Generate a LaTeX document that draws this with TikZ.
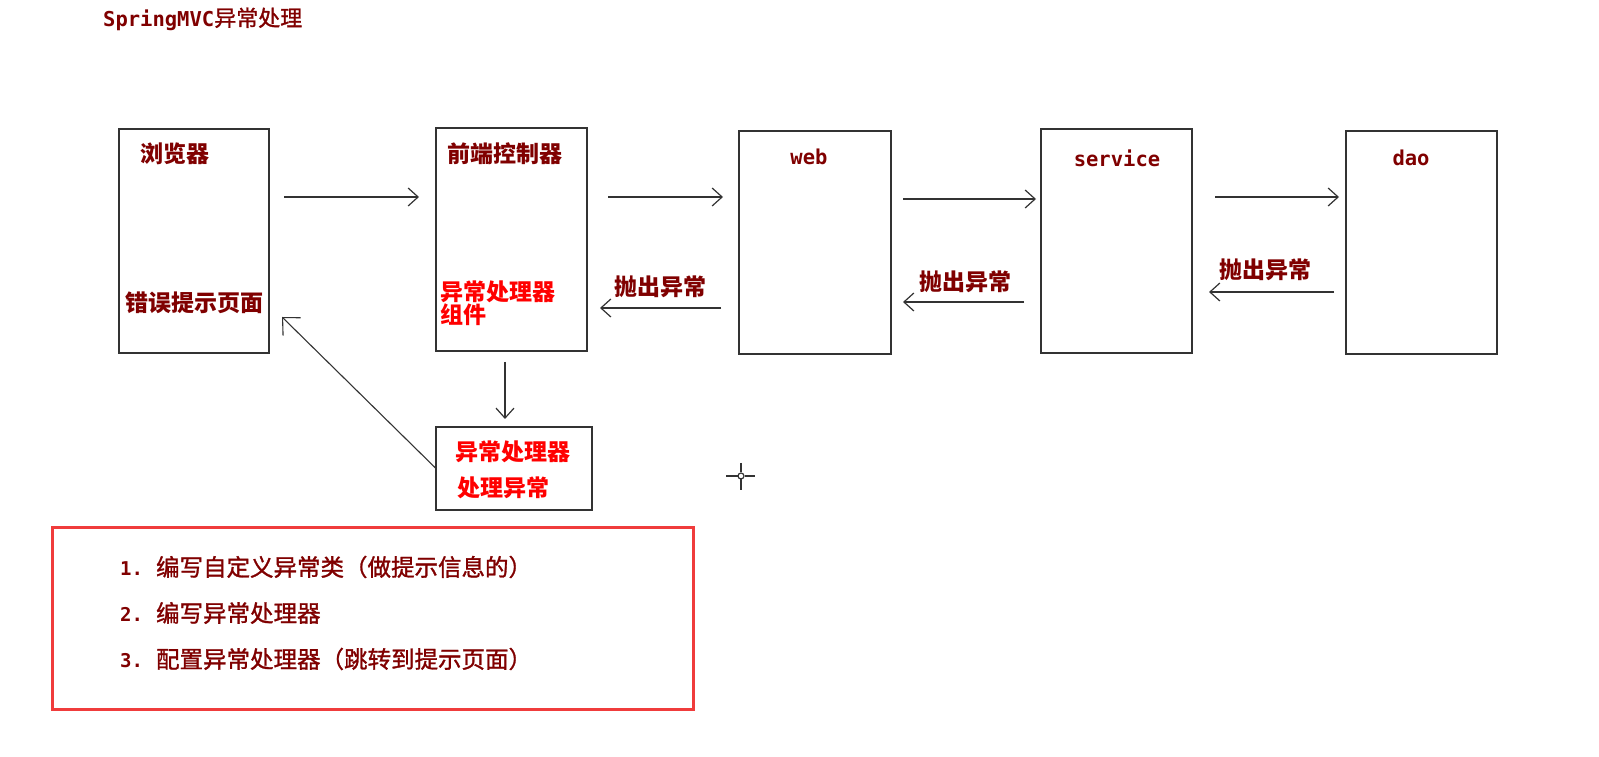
\documentclass[tikz,border=0pt]{standalone}
\usepackage{fontspec}
\newfontfamily\cjk{Noto Sans CJK SC}
\newfontfamily\cjkmid[FakeBold=1.2]{Noto Sans CJK SC}
\newfontfamily\mono{DejaVu Sans Mono}
\usetikzlibrary{arrows.meta}
\definecolor{txtdark}{HTML}{800000}
\definecolor{txtred}{HTML}{FF0000}
\definecolor{noteline}{HTML}{F03C3C}
\definecolor{boxline}{HTML}{333333}
\tikzset{
  blk/.style={draw=boxline,line width=1.3pt,inner sep=0pt,outer sep=0pt,fill=white},
  cn/.style={inner sep=0pt,font=\cjk\bfseries\fontsize{23}{23}\selectfont,text=txtdark},
  cnred/.style={cn,text=txtred},
  mn/.style={inner sep=0pt,font=\mono\bfseries\fontsize{20.5}{21}\selectfont,text=txtdark},
  arr/.style={draw=boxline,line width=1.2pt,-{Straight Barb[length=10pt,width=18pt,line width=1.2pt]}},
  darr/.style={draw=boxline,line width=1.1pt,-{Straight Barb[length=13pt,width=25pt,line width=1.1pt]}}
}
\begin{document}
\begin{tikzpicture}[x=1pt,y=1pt]
\useasboundingbox (0,0) rectangle (1599,757);
\fill[white] (0,0) rectangle (1599,757);
% title
\node[anchor=west,inner sep=0pt,text=txtdark] (title) at (103,738)
  {{\mono\bfseries\fontsize{20.5}{21}\selectfont SpringMVC}{\cjkmid\fontsize{22}{22}\selectfont 异常处理}};
% boxes
\node[blk,minimum width=150,minimum height=224] (browser) at (194,516) {};
\node[blk,minimum width=151,minimum height=223] (fc) at (511.5,517.5) {};
\node[blk,minimum width=152,minimum height=223] (web) at (815,514.5) {};
\node[blk,minimum width=151,minimum height=224] (service) at (1116.5,516) {};
\node[blk,minimum width=151,minimum height=223] (dao) at (1421.5,514.5) {};
\node[blk,minimum width=156,minimum height=83] (handler) at (514,288.5) {};
\node[draw=noteline,line width=3pt,inner sep=0pt,minimum width=641,minimum height=182] (note) at (372.5,138) {};
% box texts
\node[cn] (tbrowser) at (174.5,603) {浏览器};
\node[cn] (terror) at (194,454) {错误提示页面};
\node[cn] (tfc) at (505,603) {前端控制器};
\node[cnred,anchor=west,align=left] (tcomp) at (440,453.5) {异常处理器\\[0pt]组件};
\node[mn] (tweb) at (809,600) {web};
\node[mn] (tservice) at (1117,599) {service};
\node[mn] (tdao) at (1411,599) {dao};
\node[cnred] (th1) at (512.5,305) {异常处理器};
\node[cnred] (th2) at (503,269) {处理异常};
\node[cn] (l1) at (660.5,470) {抛出异常};
\node[cn] (l2) at (965,475) {抛出异常};
\node[cn] (l3) at (1265,487) {抛出异常};
% list
\node[anchor=west,inner sep=0pt,text=txtdark] (n1) at (120,190)
  {{\mono\bfseries\fontsize{19}{20}\selectfont 1.}\hspace{13pt}{\cjkmid\fontsize{23.5}{23.5}\selectfont 编写自定义异常类（做提示信息的）}};
\node[anchor=west,inner sep=0pt,text=txtdark] (n2) at (120,144)
  {{\mono\bfseries\fontsize{19}{20}\selectfont 2.}\hspace{13pt}{\cjkmid\fontsize{23.5}{23.5}\selectfont 编写异常处理器}};
\node[anchor=west,inner sep=0pt,text=txtdark] (n3) at (120,98)
  {{\mono\bfseries\fontsize{19}{20}\selectfont 3.}\hspace{13pt}{\cjkmid\fontsize{23.5}{23.5}\selectfont 配置异常处理器（跳转到提示页面）}};
% arrow end points
\coordinate (a1s) at (284,560); \coordinate (a1e) at (419,560);
\coordinate (a2s) at (608,560); \coordinate (a2e) at (723,560);
\coordinate (a3s) at (903,558); \coordinate (a3e) at (1036,558);
\coordinate (a4s) at (1215,560); \coordinate (a4e) at (1339,560);
\coordinate (b1s) at (721,449); \coordinate (b1e) at (600,449);
\coordinate (b2s) at (1024,455); \coordinate (b2e) at (903,455);
\coordinate (b3s) at (1334,465); \coordinate (b3e) at (1209,465);
\coordinate (ds) at (505,395); \coordinate (de) at (505,338);
\coordinate (back) at (282,440);
\draw[arr] (a1s) -- (a1e);
\draw[arr] (a2s) -- (a2e);
\draw[arr] (a3s) -- (a3e);
\draw[arr] (a4s) -- (a4e);
\draw[arr] (b1s) -- (b1e);
\draw[arr] (b2s) -- (b2e);
\draw[arr] (b3s) -- (b3e);
\draw[arr] (ds) -- (de);
\draw[darr] (handler.west) -- (back);
% cursor cross
\draw[boxline,line width=1.3pt] (726,281) -- (737.5,281) (744.5,281) -- (755,281)
  (741,294) -- (741,284.5) (741,277.5) -- (741,267);
\draw[boxline,line width=1.2pt] (741,281) circle (3pt);
\end{tikzpicture}
\end{document}
